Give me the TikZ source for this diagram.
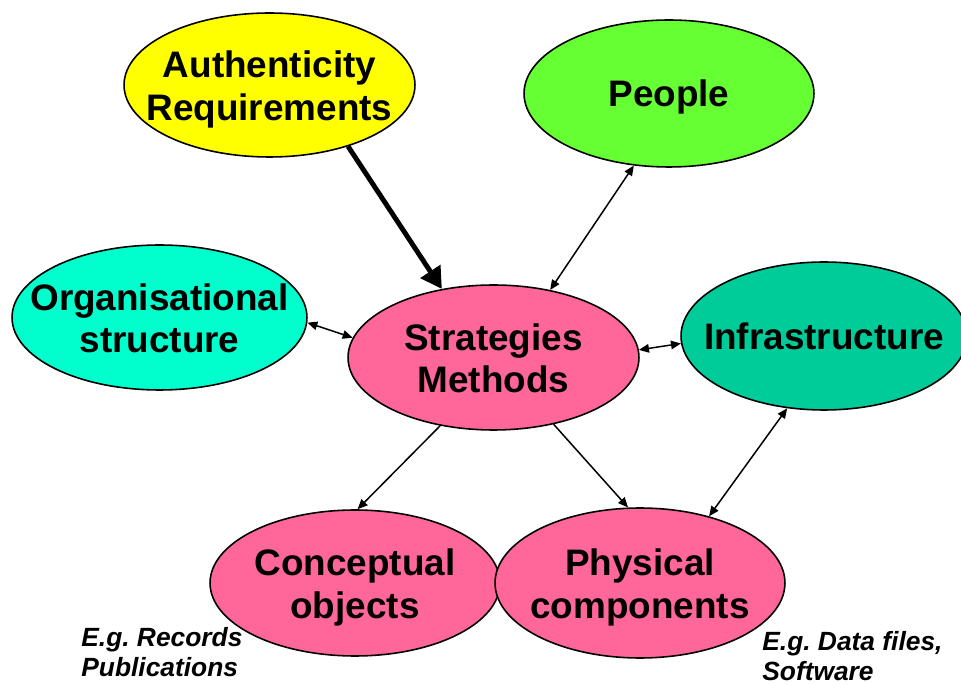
\documentclass[tikz,border=0pt]{standalone}
\usepackage{fontspec}
\setmainfont{Liberation Sans}
\usepackage{xcolor}
\usetikzlibrary{shapes.geometric,arrows.meta}

\definecolor{authyellow}{HTML}{FFFF00}
\definecolor{peoplegreen}{HTML}{66FF33}
\definecolor{orgcyan}{HTML}{00FFCC}
\definecolor{infrateal}{HTML}{00CC99}
\definecolor{stratpink}{HTML}{FF6699}

% text of an oval, kept out of the oval's size
\newcommand{\ovaltext}[1]{\makebox[0pt]{\begin{tabular}[t]{@{}c@{}}#1\end{tabular}}}

\begin{document}
\begin{tikzpicture}[x=0.02cm,y=-0.02cm]

\useasboundingbox (0,0) rectangle (961,685);

\tikzstyle{topic} = [ellipse, draw=black, line width=0.9pt, inner sep=0pt, minimum width=5.82cm, minimum height=2.9cm, font=\fontsize{21}{24.4}\selectfont\bfseries]
\tikzstyle{twoline} = [text height=4pt, text depth=12.5pt]
\tikzstyle{oneline} = [text height=15.3pt, text depth=0pt]
\tikzstyle{link} = [black, line width=0.85pt, {Triangle[length=2mm,width=1.7mm]}-{Triangle[length=2mm,width=1.7mm]}]
\tikzstyle{onelink} = [black, line width=0.85pt, -{Triangle[length=2mm,width=1.7mm]}]
\tikzstyle{bigarrow} = [black, line width=2.8pt, -{Triangle[length=4.2mm,width=4.6mm]}]
\tikzstyle{note} = [anchor=north west, inner sep=0pt, align=left, font=\fontsize{15}{17}\selectfont\bfseries\itshape\frenchspacing]

\node (auth) [topic, twoline, fill=authyellow, minimum height=2.88cm] at (269.5,85) {\ovaltext{Authenticity\\Requirements}};
\node (people) [topic, oneline, fill=peoplegreen, minimum width=5.8cm, minimum height=2.94cm] at (669,93.5) {\ovaltext{People}};
\node (org) [topic, twoline, fill=orgcyan, minimum width=5.9cm] at (159.5,317.5) {\ovaltext{Organisational\\structure}};
\node (strat) [topic, twoline, fill=stratpink] at (493.5,357.5) {\ovaltext{Strategies\\Methods}};
\node (infra) [topic, oneline, fill=infrateal, minimum width=5.72cm, minimum height=2.96cm] at (824,336) {\ovaltext{Infrastructure}};
\node (concept) [topic, twoline, fill=stratpink, minimum width=5.8cm, minimum height=2.92cm] at (355,583) {\ovaltext{Conceptual\\objects}};
\node (phys) [topic, twoline, fill=stratpink, minimum width=5.8cm, minimum height=3cm] at (640,583) {\ovaltext{Physical\\components}};

\node (recnote) [note] at (81,627) {E.g. Records\\Publications};
\node (datanote) [note] at (762,631) {E.g. Data files,\\Software};

\draw [bigarrow] (auth.-38) -- (strat.127.5);
\draw [link] (strat.50) -- (people.-116);
\draw [link] (org.-2.9) -- (strat.172.5);
\draw [link] (strat.3.4) -- (infra.-177.6);
\draw [onelink] (strat.-128.7) -- (concept.88.5);
\draw [onelink] (strat.-48.4) -- (phys.99.7);
\draw [link] (infra.-117.9) -- (phys.44.2);

\end{tikzpicture}
\end{document}
